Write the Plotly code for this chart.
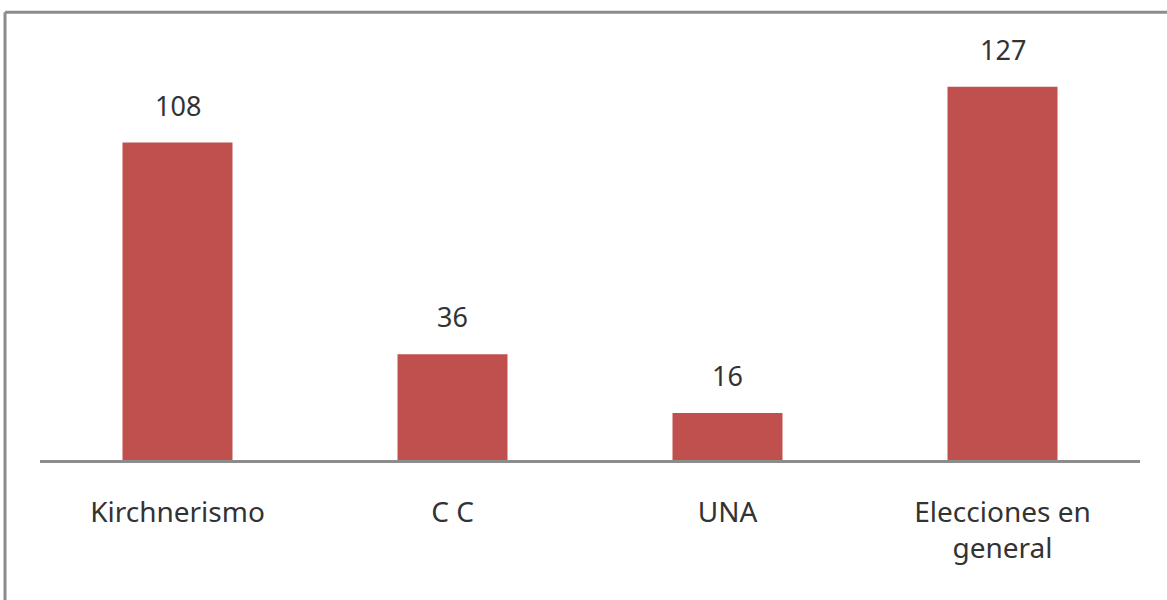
import plotly.graph_objects as go

categories = ["Kirchnerismo", "C C", "UNA", "Elecciones en<br>general"]
values = [108, 36, 16, 127]

BAR_COLOR = "#C0504D"
FONT = "'Noto Sans', 'Open Sans', sans-serif"
TEXT_COLOR = "#333333"

fig = go.Figure()
fig.add_trace(go.Bar(
    x=categories, y=values,
    marker=dict(color=BAR_COLOR, line=dict(width=0)),
    hoverinfo="skip",
))

for c, v in zip(categories, values):
    fig.add_annotation(x=c, y=v, text=str(v), showarrow=False,
                       yanchor="bottom", yshift=17,
                       font=dict(family=FONT, size=27, color=TEXT_COLOR))

# outer frame (top and left visible)
fig.add_shape(type="line", xref="paper", yref="paper",
              x0=-0.0318, x1=1.05, y0=1.066, y1=1.066,
              line=dict(color="#8c8c8c", width=3))
fig.add_shape(type="line", xref="paper", yref="paper",
              x0=-0.0318, x1=-0.0318, y0=1.066, y1=-0.4,
              line=dict(color="#8c8c8c", width=3))

fig.update_layout(
    width=1167, height=600,
    margin=dict(l=40, r=27, t=40, b=140),
    paper_bgcolor="white", plot_bgcolor="white",
    showlegend=False,
    bargap=0.6,
    font=dict(family=FONT, size=27, color=TEXT_COLOR),
)
fig.update_xaxes(
    showline=True, linecolor="#8c8c8c", linewidth=3,
    showgrid=False, zeroline=False, ticks="",
    tickfont=dict(family=FONT, size=28, color=TEXT_COLOR),
    ticklabelstandoff=25,
)
fig.update_yaxes(
    range=[0, 142.9], visible=False, showgrid=False, zeroline=False,
)

fig.write_html("out.html", config={"displayModeBar": False},
               post_script="document.body.style.margin='0';")
